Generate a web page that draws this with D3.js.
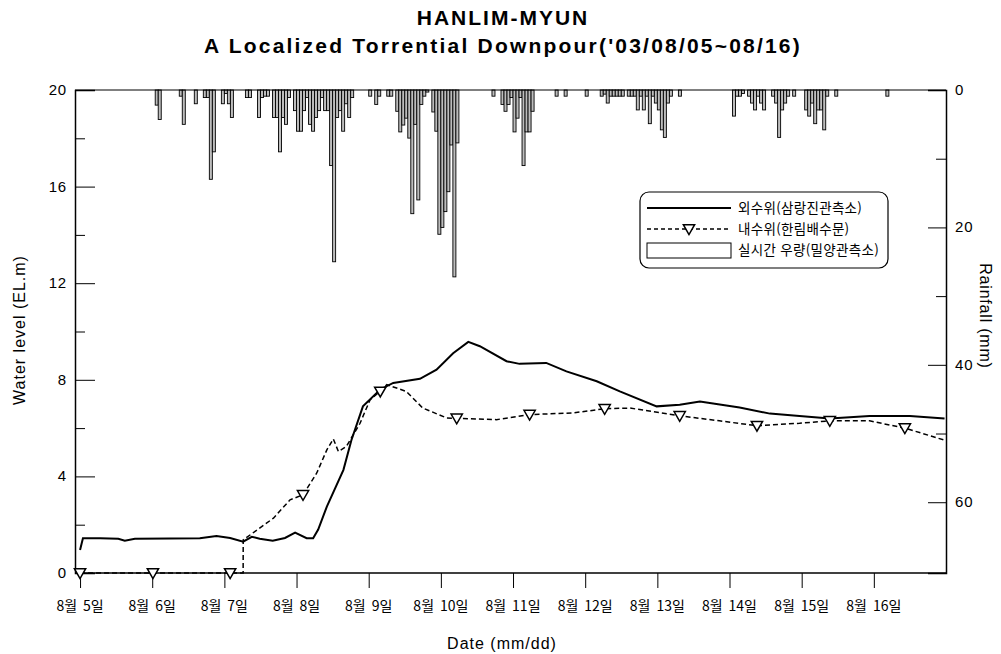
<!doctype html>
<html lang="ko">
<head>
<meta charset="utf-8">
<script src="https://cdnjs.cloudflare.com/ajax/libs/d3/7.8.5/d3.min.js"></script>
<style>
  body { margin: 0; background: #fff; font-family: 'Liberation Sans', Arial, sans-serif; }
  .kr { font-family: 'Noto Sans CJK KR', sans-serif; }
</style>
</head>
<body>
<script>
// day ticks on the x axis (day of August)
const dayTicks = [5, 6, 7, 8, 9, 10, 11, 12, 13, 14, 15, 16];
const levelTicks = [0, 4, 8, 12, 16, 20];
const rainTicks = [0, 20, 40, 60];

// 외수위 (outer water level): [day of August, EL.m]
const outerLevel = [
  [5.0, 0.95], [5.04, 1.44], [5.28, 1.44], [5.53, 1.42], [5.62, 1.34], [5.76, 1.42],
  [6.25, 1.43], [6.66, 1.44], [6.89, 1.53], [7.08, 1.45], [7.26, 1.3], [7.38, 1.5],
  [7.49, 1.42], [7.67, 1.34], [7.84, 1.45], [7.98, 1.67], [8.14, 1.44], [8.23, 1.44],
  [8.30, 1.8], [8.42, 2.75], [8.65, 4.27], [8.76, 5.5], [8.92, 6.9], [9.16, 7.6],
  [9.34, 7.87], [9.71, 8.04], [9.94, 8.42], [10.17, 9.1], [10.38, 9.57], [10.54, 9.39],
  [10.91, 8.77], [11.09, 8.66], [11.46, 8.7], [11.74, 8.35], [12.16, 7.94], [12.48, 7.52],
  [12.99, 6.9], [13.31, 6.97], [13.59, 7.1], [14.14, 6.85], [14.56, 6.6], [14.97, 6.5],
  [15.39, 6.4], [15.94, 6.5], [16.5, 6.5], [16.98, 6.4]
];

// 내수위 (inner water level): [day of August, EL.m]
const innerLevel = [
  [5.0, 0], [7.26, 0], [7.261, 1.37], [7.68, 2.27], [7.91, 3.03], [8.09, 3.24],
  [8.28, 4.14], [8.42, 5.1], [8.51, 5.55], [8.58, 5.03], [8.69, 5.24], [8.88, 6.2],
  [9.02, 7.18], [9.16, 7.52], [9.25, 7.8], [9.52, 7.52], [9.75, 6.83], [10.08, 6.42],
  [10.77, 6.35], [11.23, 6.56], [11.83, 6.63], [12.27, 6.8], [12.62, 6.83], [13.31, 6.51],
  [13.86, 6.3], [14.38, 6.1], [14.97, 6.2], [15.39, 6.3], [15.94, 6.3], [16.43, 6.0],
  [16.98, 5.5]
];
// days where the ▽ markers sit on the inner level line
const innerMarkers = [5.0, 6.01, 7.08, 8.09, 9.16, 10.22, 11.23, 12.27, 13.31, 14.38, 15.39, 16.43];

// hourly rainfall: [hours after 8/5 00:00, mm]
const rainfall = [
  [25, 2.2], [26, 4.3], [33, 0.9], [34, 5], [38, 2], [41, 1.1], [42, 1.1], [43, 13], [44, 9],
  [47, 2], [48, 0.5], [49, 2], [50, 4], [55, 1.1], [56, 1.1], [59, 4], [60, 1.1], [61, 0.9], [62, 0.9],
  [64, 4], [65, 4], [66, 9], [67, 4], [68, 5], [69, 1.1],
  [71, 3], [72, 6], [73, 6], [74, 3], [75, 1.1], [76, 5], [77, 6], [78, 4], [79, 3], [80, 1.1],
  [81, 3], [82, 3], [83, 11], [84, 25], [85, 4], [86, 3], [87, 6], [88, 2], [89, 4], [90, 1.1],
  [96, 0.9], [98, 2.1], [99, 0.9], [102, 0.9], [103, 0.9],
  [105, 3.1], [106, 6.1], [107, 5.1], [108, 4.1], [109, 7], [110, 18], [111, 5], [112, 16],
  [113, 2.1], [114, 0.9], [115, 0.3],
  [117, 3.2], [118, 6], [119, 21], [120, 20], [121, 17.7], [122, 14.8], [123, 8], [124, 27.2], [125, 7.7],
  [137, 0.9], [140, 2.1], [141, 3.1], [142, 2.1], [143, 1.1], [144, 6.1], [145, 4.1], [146, 1.1],
  [147, 11], [148, 6.1], [149, 6.1], [150, 3.1],
  [158, 0.9], [161, 0.9], [168, 0.9],
  [173, 0.9], [174, 0.6], [175, 1.9], [176, 0.9], [177, 0.9], [178, 0.9], [179, 0.9], [180, 0.9],
  [182, 0.9], [183, 0.9], [184, 0.9], [185, 2.9], [186, 0.9], [187, 2.9], [188, 0.9], [189, 4.9],
  [190, 0.9], [191, 1.9], [192, 2.9], [193, 5.8], [194, 6.9], [195, 1.9], [196, 0.9], [199, 0.9],
  [217, 3.8], [218, 0.9], [219, 0.9], [220, 0.5], [222, 0.9], [223, 1.9], [224, 2.9], [225, 0.9],
  [226, 1.9], [227, 2.9], [230, 0.9], [231, 1.9], [232, 6.9], [233, 2.9], [234, 1.9], [235, 0.9],
  [237, 0.9], [241, 2.9], [242, 3.8], [243, 1.9], [244, 4.9], [245, 2.9], [246, 2.9], [247, 5.8],
  [248, 0.9], [251, 0.9], [268, 0.9]
];

const W = 1001, H = 654;
const mLeft = 75, mRight = 946, mTop = 90, mBottom = 573;

const svg = d3.select("body").append("svg")
  .attr("width", W).attr("height", H);

const x = d3.scaleLinear().domain([4.93, 17.0]).range([mLeft, mRight]);
const y = d3.scaleLinear().domain([0, 20]).range([mBottom, mTop]);
const yRain = d3.scaleLinear().domain([0, 70.3]).range([mTop, mBottom]);

// rainfall bars hanging from the top
svg.append("g").selectAll("rect")
  .data(rainfall)
  .enter().append("rect")
  .attr("x", d => x(5 + d[0] / 24))
  .attr("y", yRain(0))
  .attr("width", d => x(5 + (d[0] + 1) / 24) - x(5 + d[0] / 24))
  .attr("height", d => yRain(d[1]) - yRain(0))
  .attr("fill", "#bdbdbd")
  .attr("stroke", "#000")
  .attr("stroke-width", 0.9);

// frame: top line
svg.append("line").attr("x1", mLeft).attr("x2", mRight).attr("y1", mTop).attr("y2", mTop)
  .attr("stroke", "#000").attr("stroke-width", 1);

// left axis
svg.append("g").attr("transform", "translate(" + mLeft + ",0)")
  .call(d3.axisRight(y).tickValues(levelTicks).tickSize(20).tickFormat(""))
  .call(g => g.select(".domain").attr("stroke-width", 1.5));
svg.append("g").attr("transform", "translate(" + mLeft + ",0)")
  .call(d3.axisRight(y).tickValues([2, 6, 10, 14, 18]).tickSize(10).tickFormat(""))
  .call(g => g.select(".domain").remove());
svg.append("g").selectAll("text").data(levelTicks).enter().append("text")
  .attr("x", 67).attr("y", d => y(d) + 5)
  .attr("text-anchor", "end")
  .style("font-size", "15px").style("letter-spacing", "0.8px")
  .text(d => d);

// right axis (rainfall)
svg.append("g").attr("transform", "translate(" + mRight + ",0)")
  .call(d3.axisLeft(yRain).tickValues(rainTicks).tickSize(18).tickFormat(""))
  .call(g => g.select(".domain").attr("stroke-width", 1.5));
svg.append("g").attr("transform", "translate(" + mRight + ",0)")
  .call(d3.axisLeft(yRain).tickValues([10, 30, 50]).tickSize(10).tickFormat(""))
  .call(g => g.select(".domain").remove());
svg.append("g").selectAll("text").data(rainTicks).enter().append("text")
  .attr("x", 955).attr("y", d => yRain(d) + 5)
  .style("font-size", "15px").style("letter-spacing", "0.8px")
  .text(d => d);

// bottom axis
svg.append("g").attr("transform", "translate(0," + mBottom + ")")
  .call(d3.axisBottom(x).tickValues(dayTicks).tickSize(15).tickFormat(""))
  .call(g => g.select(".domain").attr("d", "M" + mLeft + ",0H" + mRight).attr("stroke-width", 1.5));
svg.append("g").selectAll("text").data(dayTicks).enter().append("text")
  .attr("class", "kr")
  .attr("x", d => x(d)).attr("y", 611)
  .attr("text-anchor", "middle")
  .style("font-size", "14px").style("word-spacing", "2px")
  .text(d => "8월 " + d + "일");

// water level lines
const line = d3.line().x(d => x(d[0])).y(d => y(d[1]));

svg.append("path").datum(outerLevel)
  .attr("d", line).attr("fill", "none")
  .attr("stroke", "#000").attr("stroke-width", 2);

svg.append("path").datum(innerLevel)
  .attr("d", line).attr("fill", "none")
  .attr("stroke", "#000").attr("stroke-width", 1.5)
  .attr("stroke-dasharray", "5,3");

// place markers on the inner line by interpolation
const bis = d3.bisector(d => d[0]).left;
function innerAt(t) {
  const i = Math.max(1, bis(innerLevel, t));
  const a = innerLevel[i - 1], b = innerLevel[Math.min(i, innerLevel.length - 1)];
  if (b[0] === a[0]) return a[1];
  return a[1] + (b[1] - a[1]) * (t - a[0]) / (b[0] - a[0]);
}
const tri = d3.symbol().type(d3.symbolTriangle).size(55);
svg.append("g").selectAll("path")
  .data(innerMarkers)
  .enter().append("path")
  .attr("d", tri)
  .attr("transform", d => "translate(" + x(d) + "," + (y(innerAt(d)) - 1) + ") rotate(180)")
  .attr("fill", "#fff").attr("stroke", "#000").attr("stroke-width", 1.5);

// titles
svg.append("text").attr("x", 503).attr("y", 25).attr("text-anchor", "middle")
  .style("font-weight", "bold").style("font-size", "21px").style("letter-spacing", "2px")
  .text("HANLIM-MYUN");
svg.append("text").attr("x", 503).attr("y", 53).attr("text-anchor", "middle")
  .style("font-weight", "bold").style("font-size", "21px").style("letter-spacing", "2.2px")
  .text("A Localized Torrential Downpour('03/08/05~08/16)");

svg.append("text")
  .attr("transform", "translate(25,330) rotate(-90)")
  .attr("text-anchor", "middle").style("font-size", "16px").style("letter-spacing", "1px")
  .text("Water level (EL.m)");
svg.append("text")
  .attr("transform", "translate(980,316) rotate(90)")
  .attr("text-anchor", "middle").style("font-size", "16px").style("letter-spacing", "0.8px")
  .text("Rainfall (mm)");
svg.append("text")
  .attr("x", 502).attr("y", 649).attr("text-anchor", "middle")
  .style("font-size", "16px").style("letter-spacing", "1px")
  .text("Date (mm/dd)");

// legend
const legend = svg.append("g").attr("id", "legend");
legend.append("rect").attr("x", 640).attr("y", 192).attr("width", 248).attr("height", 76)
  .attr("rx", 9).attr("fill", "#fff").attr("stroke", "#000").attr("stroke-width", 1.2);
legend.append("line").attr("x1", 647).attr("x2", 731).attr("y1", 208).attr("y2", 208)
  .attr("stroke", "#000").attr("stroke-width", 2);
legend.append("line").attr("x1", 647).attr("x2", 731).attr("y1", 229).attr("y2", 229)
  .attr("stroke", "#000").attr("stroke-width", 1.5).attr("stroke-dasharray", "4,3");
legend.append("path").attr("d", tri)
  .attr("transform", "translate(689,228) rotate(180)")
  .attr("fill", "#fff").attr("stroke", "#000").attr("stroke-width", 1.5);
legend.append("rect").attr("x", 647).attr("y", 243).attr("width", 84).attr("height", 15)
  .attr("fill", "#fff").attr("stroke", "#000").attr("stroke-width", 1);
const legendText = ["외수위(삼랑진관측소)", "내수위(한림배수문)", "실시간 우량(밀양관측소)"];
legend.selectAll("text.lbl").data(legendText).enter().append("text")
  .attr("class", "kr")
  .attr("x", 738).attr("y", (d, i) => 213 + i * 21)
  .style("font-size", "13.5px").style("letter-spacing", "0.3px")
  .text(d => d);
</script>
</body>
</html>
